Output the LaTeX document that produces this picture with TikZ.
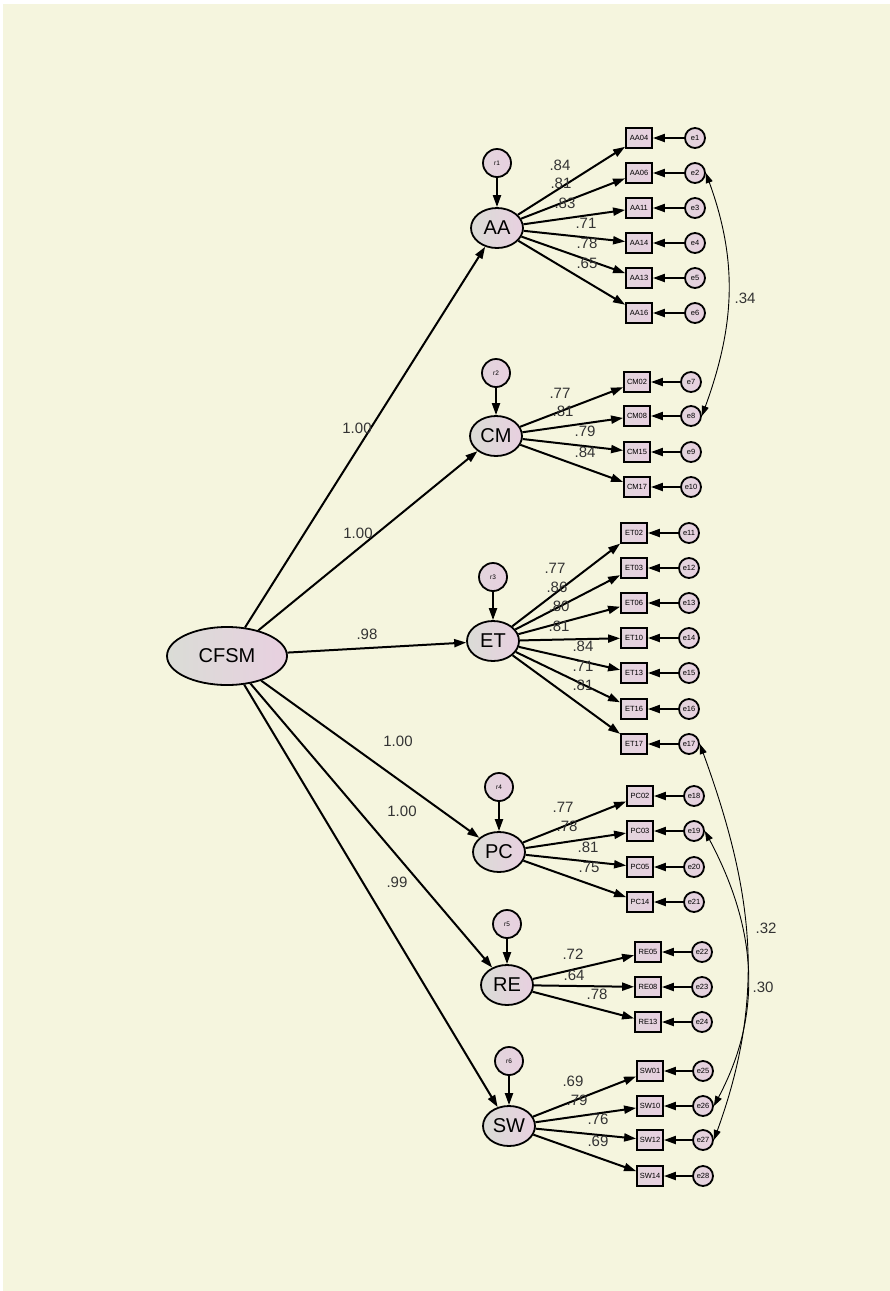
\documentclass[tikz,border=0pt]{standalone}
\usepackage{fontspec}
\setmainfont{Liberation Sans}
\usetikzlibrary{shapes.geometric,arrows.meta}
\definecolor{fondo}{RGB}{245,245,222}
\definecolor{gris}{RGB}{218,220,214}
\definecolor{rosa}{RGB}{232,208,224}
\begin{document}
\begin{tikzpicture}[x=1pt,y=1pt,
    >={Triangle[length=12pt,width=8pt]},
    latent/.style={ellipse,draw,line width=1.8pt,inner sep=0pt,
        minimum width=52pt,minimum height=40pt,left color=gris,right color=rosa,
        font=\fontsize{20}{22}\selectfont},
    resid/.style={circle,draw,line width=1.8pt,inner sep=0pt,minimum size=28pt,
        left color=gris!40!rosa,right color=rosa,font=\fontsize{6.5}{7}\selectfont},
    obs/.style={rectangle,draw,line width=1.8pt,inner sep=0pt,minimum width=26pt,
        minimum height=20pt,left color=gris!40!rosa,right color=rosa,
        font=\fontsize{7.5}{8}\selectfont},
    err/.style={circle,draw,line width=1.8pt,inner sep=0pt,minimum size=20pt,
        left color=gris!40!rosa,right color=rosa,font=\fontsize{7.5}{8}\selectfont},
    reg/.style={->,line width=2pt},
    cov/.style={<->,line width=0.9pt,>={Triangle[length=10pt,width=7pt]}},
    coef/.style={inner sep=0pt,text=black!80,font=\fontsize{15}{17}\selectfont}]
    % Fondo
    \useasboundingbox (0,0) rectangle (890,-1291);
    \fill[white] (0,0) rectangle (890,-1291);
    \fill[fondo] (3,-4) rectangle (890,-1291);

    % Factor de segundo orden
    \node[latent,minimum width=120pt,minimum height=58pt] (CFSM) at (227,-656) {CFSM};

    % Factores de primer orden
    \foreach \f/\x/\y/\r/\ry/\c/\cx/\cy in {AA/497/228/r1/163/1.00/357/428,
        CM/496/436/r2/373/1.00/358/533, ET/493/641/r3/577/.98/367/634,
        PC/499/852/r4/787/1.00/398/741, RE/507/985/r5/924/1.00/402/811,
        SW/509/1126/r6/1061/.99/397/882} {
        \node[latent] (\f) at (\x,-\y) {\f};
        \node[resid] (\r) at (\x,-\ry) {\r};
        \draw[reg] (\r) -- (\f);
        \draw[reg] (CFSM) -- (\f);
        \node[coef] (c\f) at (\cx,-\cy) {\c};
    }

    % Indicadores y errores
    \foreach \f/\v/\n/\y/\bx/\ex/\l/\lx/\ly in {
        AA/AA04/1/138/639/695/.84/560/165, AA/AA06/2/173/639/695/.81/561/183,
        AA/AA11/3/208/639/695/.83/565/203, AA/AA14/4/243/639/695/.71/586/223,
        AA/AA13/5/278/639/695/.78/587/243, AA/AA16/6/313/639/695/.65/587/263,
        CM/CM02/7/382/637/691/.77/560/393, CM/CM08/8/416/637/691/.81/563/411,
        CM/CM15/9/452/637/691/.79/585/431, CM/CM17/10/487/637/691/.84/585/452,
        ET/ET02/11/533/634/689/.77/555/568, ET/ET03/12/568/634/689/.86/557/587,
        ET/ET06/13/603/634/689/.80/559/606, ET/ET10/14/638/634/689/.81/559/626,
        ET/ET13/15/673/634/689/.84/583/646, ET/ET16/16/709/634/689/.71/583/666,
        ET/ET17/17/744/634/689/.81/583/685,
        PC/PC02/18/796/640/694/.77/563/807, PC/PC03/19/831/640/694/.78/567/826,
        PC/PC05/20/867/640/694/.81/588/847, PC/PC14/21/902/640/694/.75/589/867,
        RE/RE05/22/952/648/702/.72/573/954, RE/RE08/23/987/648/702/.64/574/975,
        RE/RE13/24/1022/648/702/.78/597/994,
        SW/SW01/25/1071/650/703/.69/573/1081, SW/SW10/26/1106/650/703/.79/577/1100,
        SW/SW12/27/1140/650/703/.76/598/1119, SW/SW14/28/1176/650/703/.69/598/1141} {
        \node[obs] (\v) at (\bx,-\y) {\v};
        \node[err] (e\n) at (\ex,-\y) {e\n};
        \draw[reg] (e\n) -- (\v);
        \draw[reg] (\f) -- (\v);
        \node[coef] (l\v) at (\lx,-\ly) {\l};
    }

    % Covarianzas entre errores
    \draw[cov] (e2.east) to[out=-70,in=70] (e8.east);
    \node[coef] (k1) at (745,-298) {.34};
    \draw[cov] (e17.east) to[out=-70,in=70] (e27.east);
    \node[coef] (k2) at (766,-928) {.32};
    \draw[cov] (e19.east) to[out=-62,in=62] (e26.east);
    \node[coef] (k3) at (763,-987) {.30};
\end{tikzpicture}
\end{document}
